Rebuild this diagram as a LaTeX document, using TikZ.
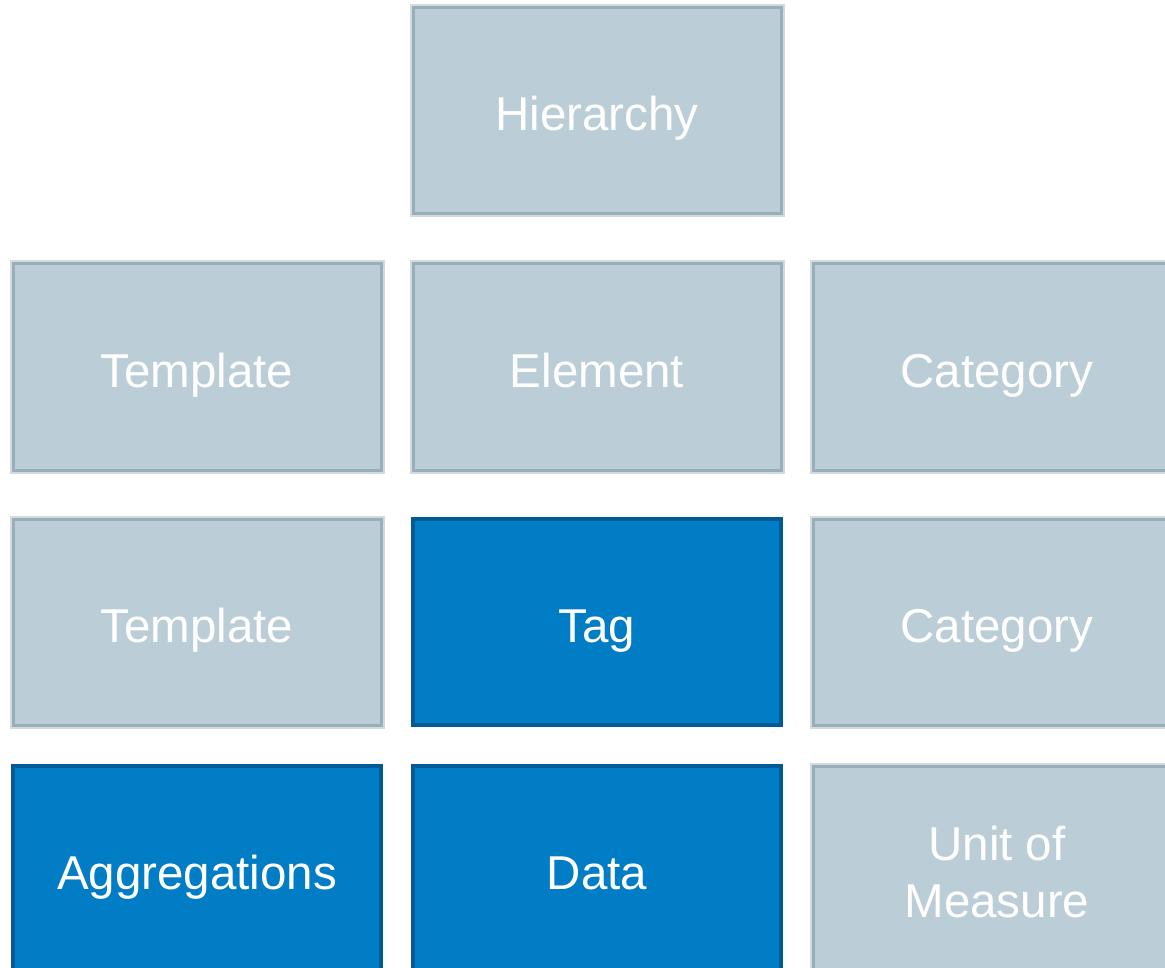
\documentclass[tikz,border=0pt]{standalone}
\usepackage{fontspec}
\setmainfont{Liberation Sans}
\definecolor{grayfill}{HTML}{BBCED7}
\definecolor{grayline}{HTML}{98AEBA}
\definecolor{grayhalo}{HTML}{D3DADE}
\definecolor{bluefill}{HTML}{007DC5}
\definecolor{blueline}{HTML}{005A94}
\begin{document}
\begin{tikzpicture}[x=1pt,y=-1pt,
  tile/.style={rectangle, inner sep=0pt, minimum width=368pt, minimum height=206pt,
    text=white, align=center, font=\fontsize{47.5}{57}\selectfont,
    text height=34pt, text depth=0pt},
  graytile/.style={tile, fill=grayfill, draw=grayline, line width=3pt,
    preaction={draw=grayhalo, line width=7pt}},
  bluetile/.style={tile, fill=bluefill, draw=blueline, line width=4pt}]
\useasboundingbox (0,0) rectangle (1165,968);
\clip (0,0) rectangle (1165,968);
\node[graytile] (hier) at (597,111) {\raisebox{-3pt}{Hierarchy}};
\node[graytile] (tmpl1) at (197,367) {\raisebox{-3pt}{Template}};
\node[graytile] (elem) at (597,367) {\raisebox{-3pt}{Element}};
\node[graytile] (cat1) at (997,367) {\raisebox{-3pt}{Category}};
\node[graytile] (tmpl2) at (197,622) {\raisebox{-3pt}{Template}};
\node[bluetile] (tag) at (597,622) {\raisebox{-3pt}{Tag}};
\node[graytile] (cat2) at (997,622) {\raisebox{-3pt}{Category}};
\node[bluetile] (aggr) at (197,869) {\raisebox{-3pt}{Aggregations}};
\node[bluetile] (data) at (597,869) {\raisebox{-3pt}{Data}};
\node[graytile, text height=, text depth=] (uom) at (997,869) {};
\node[text=white, align=center, font=\fontsize{47.5}{57}\selectfont, inner sep=0pt,
  anchor=base] (uomtext) at (997,917) {Unit of\\Measure};
\end{tikzpicture}
\end{document}
